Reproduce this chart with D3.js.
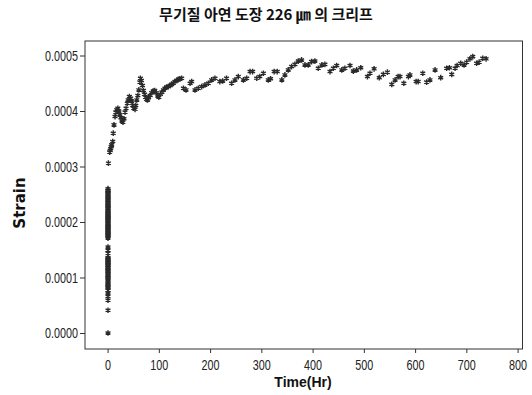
<!DOCTYPE html>
<html>
<head>
<meta charset="utf-8">
<script src="https://cdn.jsdelivr.net/npm/d3@7"></script>
<style>
  body { margin: 0; background: #fff; }
  svg { display: block; }
</style>
</head>
<body>
<div id="chart"></div>
<script>
// chart data
const chartTitle = "무기질 아연 도장 226 ㎛ 의 크리프";
const xTitle = "Time(Hr)";
const yTitle = "Strain";
const xTicks = [0, 100, 200, 300, 400, 500, 600, 700, 800];
const yTicks = [0.0000, 0.0001, 0.0002, 0.0003, 0.0004, 0.0005];

// loading phase, all recorded within the first hour
const loadTime = [
  0.8, 0.8, 0.8, 0.7, 0.8, 0.9, 0.8, 0.7, 0.8, 0.9,
  0.8, 0.7, 0.8, 0.9, 0.8, 0.8, 0.7, 0.9, 0.8, 0.8,
  0.7, 0.9, 0.8, 0.8, 0.8, 0.8, 0.7, 0.9, 0.8, 0.8,
  0.7, 0.9, 0.8, 0.8, 0.7, 0.9, 0.8, 0.8, 0.7, 0.9,
  0.8, 0.8, 0.7, 0.9, 0.8, 0.8, 0.7, 0.9, 0.8, 0.8,
  0.8, 0.9, 0.7, 0.8, 0.8, 0.9, 0.7, 0.8, 0.8, 0.9,
  0.8, 0.7, 0.8, 0.9, 0.8, 0.8, 0.7, 0.9, 0.8, 0.8,
  0.8, 0.9, 0.7, 0.8, 0.8, 0.9, 0.8, 0.7, 0.8, 0.8
];
const loadStrain = [
  0.000000, 0.000041, 0.000059, 0.000066, 0.000072, 0.000077, 0.000081, 0.000086, 0.000090, 0.000094,
  0.000097, 0.000101, 0.000104, 0.000108, 0.000111, 0.000115, 0.000118, 0.000121, 0.000125, 0.000128,
  0.000131, 0.000134, 0.000144, 0.000149, 0.000155, 0.000171, 0.000175, 0.000179, 0.000183, 0.000187,
  0.000190, 0.000194, 0.000198, 0.000202, 0.000206, 0.000209, 0.000213, 0.000217, 0.000221, 0.000224,
  0.000228, 0.000232, 0.000236, 0.000239, 0.000243, 0.000247, 0.000250, 0.000254, 0.000257, 0.000260,
  0.000173, 0.000177, 0.000181, 0.000185, 0.000189, 0.000192, 0.000196, 0.000200, 0.000204, 0.000208,
  0.000211, 0.000215, 0.000219, 0.000226, 0.000230, 0.000234, 0.000241, 0.000245, 0.000252, 0.000256,
  0.000099, 0.000106, 0.000113, 0.000117, 0.000123, 0.000127, 0.000133, 0.000136, 0.000088, 0.000083
];

// creep phase
const creepTime = [
  1.6, 4, 5, 6, 7, 8, 10, 11, 12.5, 14.5,
  16, 18, 20, 22, 24, 26, 28, 30, 32, 34,
  36, 38.5, 40, 42.5, 45, 47, 49, 51, 53.5, 55,
  57, 59, 61, 63, 64, 66, 68, 70, 72, 74,
  76, 78, 80, 83, 86, 89, 92, 95, 98, 100,
  103, 106, 109, 112, 115, 118.5, 122, 125, 128, 131.5,
  135, 138, 141, 144.5, 148, 153, 161, 164, 170.5, 177,
  183.5, 190, 196.5, 203, 209.5, 219, 224.5, 232, 242, 248.5,
  255, 265, 271.5, 278, 283, 291, 297, 304, 313.5, 318,
  325, 331, 340, 346, 352.5, 359, 365.5, 372, 378.5, 385,
  391.5, 398, 404.5, 411, 418, 424, 434, 440.5, 447, 457,
  463, 473, 479.5, 486, 494, 507, 512, 520, 530, 538,
  546, 554.5, 561, 567, 570.5, 578, 587, 590, 602, 606,
  615, 622.5, 629, 639, 650, 661.5, 667, 671.5, 678, 682,
  689, 695.5, 700.5, 707, 712.5, 720, 725, 732, 738.5
];
const creepStrain = [
  0.000306, 0.000326, 0.000329, 0.000332, 0.000336, 0.000339, 0.000345, 0.000360, 0.000375, 0.000390,
  0.000398, 0.000402, 0.000405, 0.000400, 0.000393, 0.000388, 0.000382, 0.000380, 0.000386, 0.000398,
  0.000405, 0.000414, 0.000420, 0.000426, 0.000423, 0.000418, 0.000410, 0.000405, 0.000403, 0.000410,
  0.000420, 0.000428, 0.000438, 0.000452, 0.000459, 0.000455, 0.000446, 0.000437, 0.000430, 0.000425,
  0.000421, 0.000420, 0.000424, 0.000428, 0.000433, 0.000436, 0.000437, 0.000433, 0.000427, 0.000425,
  0.000430, 0.000434, 0.000438, 0.000441, 0.000443, 0.000444, 0.000446, 0.000448, 0.000450, 0.000453,
  0.000455, 0.000457, 0.000458, 0.000459, 0.000441, 0.000438, 0.000450, 0.000453, 0.000438, 0.000441,
  0.000444, 0.000447, 0.000450, 0.000456, 0.000459, 0.000453, 0.000454, 0.000459, 0.000450, 0.000456,
  0.000462, 0.000456, 0.000459, 0.000471, 0.000471, 0.000459, 0.000462, 0.000468, 0.000456, 0.000458,
  0.000471, 0.000471, 0.000456, 0.000465, 0.000474, 0.000480, 0.000484, 0.000490, 0.000492, 0.000483,
  0.000483, 0.000489, 0.000490, 0.000477, 0.000483, 0.000484, 0.000471, 0.000477, 0.000482, 0.000474,
  0.000477, 0.000482, 0.000472, 0.000474, 0.000478, 0.000462, 0.000468, 0.000476, 0.000460, 0.000466,
  0.000470, 0.000448, 0.000456, 0.000462, 0.000462, 0.000450, 0.000462, 0.000465, 0.000453, 0.000453,
  0.000468, 0.000452, 0.000456, 0.000474, 0.000460, 0.000477, 0.000478, 0.000466, 0.000477, 0.000482,
  0.000486, 0.000483, 0.000488, 0.000494, 0.000498, 0.000486, 0.000488, 0.000495, 0.000494
];

const width = 532, height = 395;
const frame = { left: 85, right: 522.5, top: 41, bottom: 349 };

const svg = d3.select("#chart").append("svg")
  .attr("width", width)
  .attr("height", height);

// scales (0 hr and 0 strain sit inside the frame, not on its edge)
const x = d3.scaleLinear().domain([0, 800]).range([107.6, 517.6]);
const y = d3.scaleLinear().domain([0, 0.0005]).range([333, 55.5]);

// title
svg.append("text")
  .attr("x", 266)
  .attr("y", 20)
  .attr("text-anchor", "middle")
  .style("font-family", "'Noto Sans CJK KR', sans-serif")
  .style("font-weight", "bold")
  .style("font-size", "15px")
  .style("fill", "#111")
  .text(chartTitle);

// frame
svg.append("rect")
  .attr("x", frame.left)
  .attr("y", frame.top)
  .attr("width", frame.right - frame.left)
  .attr("height", frame.bottom - frame.top)
  .style("fill", "none")
  .style("stroke", "#333")
  .style("stroke-width", 1);

// tall, narrow tick digits: squeeze horizontally around the tick
const squeeze = 0.72;
function narrow(sel) {
  sel.style("font-family", "'Liberation Sans', sans-serif")
    .style("font-size", "15px")
    .style("fill", "#222")
    .attr("x", function() { return (+d3.select(this).attr("x") || 0) / squeeze; })
    .attr("transform", "scale(" + squeeze + ",1)");
}

// x axis
const xAxis = svg.append("g")
  .attr("transform", "translate(0," + frame.bottom + ")")
  .call(d3.axisBottom(x).tickValues(xTicks).tickSize(4).tickPadding(6).tickFormat(d3.format("d")));
xAxis.select(".domain").remove();
xAxis.selectAll("line").style("stroke", "#333");
xAxis.selectAll("text").call(narrow);

// y axis
const yAxis = svg.append("g")
  .attr("transform", "translate(" + frame.left + ",0)")
  .call(d3.axisLeft(y).tickValues(yTicks).tickSize(5).tickPadding(2).tickFormat(d3.format(".4f")));
yAxis.select(".domain").remove();
yAxis.selectAll("line").style("stroke", "#333");
yAxis.selectAll("text").call(narrow);

// axis titles
svg.append("text")
  .attr("x", 303)
  .attr("y", 387)
  .attr("text-anchor", "middle")
  .style("font-family", "'Liberation Sans', sans-serif")
  .style("font-weight", "bold")
  .style("font-size", "14px")
  .style("fill", "#111")
  .text(xTitle);

svg.append("text")
  .attr("text-anchor", "middle")
  .attr("transform", "translate(25,203)rotate(-90)")
  .style("font-family", "'DejaVu Sans', sans-serif")
  .style("font-weight", "bold")
  .style("font-size", "15px")
  .style("fill", "#111")
  .text(yTitle);

// points
const points = loadTime.map((t, i) => [t, loadStrain[i]])
  .concat(creepTime.map((t, i) => [t, creepStrain[i]]));

const star = d3.symbol().type(d3.symbolAsterisk).size(22);

svg.append("g")
  .selectAll("path")
  .data(points)
  .enter()
  .append("path")
  .attr("transform", d => "translate(" + x(d[0]) + "," + y(d[1]) + ")")
  .attr("d", star)
  .style("fill", "none")
  .style("stroke", "#2a2a2a")
  .style("stroke-width", 1.4);
</script>
</body>
</html>
